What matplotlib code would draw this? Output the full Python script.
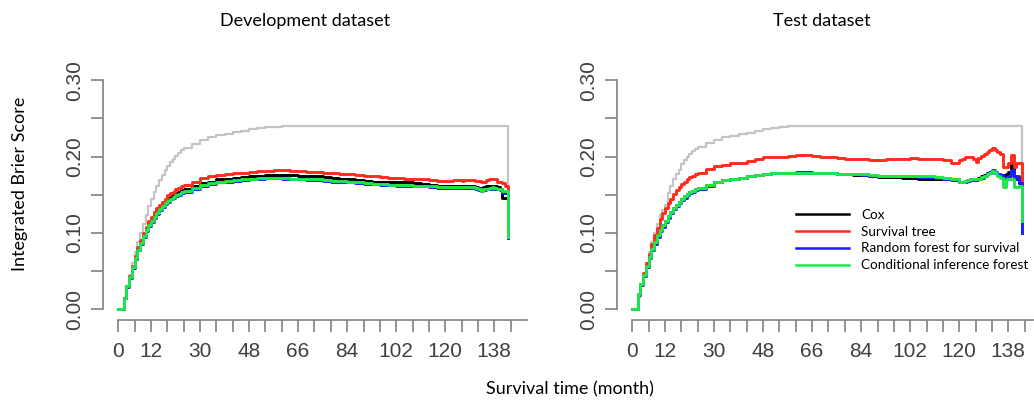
import matplotlib
matplotlib.use("Agg")
import matplotlib.pyplot as plt

# time grid (months)
months = list(range(0, 25)) + list(range(27, 121, 3)) + list(range(121, 144))

# --- Development dataset ---
dev_ref = [0, 0, 0.015, 0.03, 0.045, 0.06, 0.075, 0.088, 0.10, 0.112, 0.124, 0.135, 0.145,
           0.154, 0.162, 0.169, 0.176, 0.182, 0.188, 0.193, 0.197, 0.201, 0.205, 0.208, 0.211,
           0.216, 0.221, 0.225, 0.228, 0.230, 0.232, 0.234, 0.236, 0.237, 0.238, 0.239, 0.240,
           0.240, 0.240, 0.240, 0.240, 0.240, 0.240, 0.240, 0.240, 0.240, 0.240,
           0.240, 0.240, 0.240, 0.240, 0.240, 0.240, 0.240, 0.240, 0.240, 0.240,
           0.240, 0.240, 0.240, 0.240, 0.240, 0.240, 0.240, 0.240, 0.240, 0.240, 0.240,
           0.240, 0.240, 0.240, 0.240, 0.240, 0.240, 0.240, 0.240, 0.240, 0.240, 0.240, 0.157]
dev_cox = [0, 0, 0.015, 0.03, 0.042, 0.055, 0.067, 0.078, 0.088, 0.097, 0.105, 0.112, 0.117,
           0.123, 0.128, 0.133, 0.137, 0.141, 0.144, 0.147, 0.150, 0.152, 0.154, 0.156, 0.158,
           0.162, 0.165, 0.167, 0.170, 0.171, 0.172, 0.173, 0.174, 0.175, 0.1755, 0.176, 0.176,
           0.1755, 0.175, 0.1745, 0.174, 0.173, 0.172, 0.171, 0.170, 0.169, 0.168,
           0.167, 0.167, 0.166, 0.166, 0.166, 0.165, 0.164, 0.163, 0.162, 0.161,
           0.161, 0.161, 0.161, 0.161, 0.161, 0.161, 0.161, 0.161, 0.161, 0.161, 0.160,
           0.159, 0.158, 0.160, 0.161, 0.162, 0.162, 0.161, 0.160, 0.158, 0.146, 0.146, 0.150]
dev_tree = [0, 0, 0.015, 0.03, 0.043, 0.057, 0.07, 0.081, 0.091, 0.10, 0.108, 0.115, 0.121,
            0.127, 0.132, 0.137, 0.141, 0.145, 0.149, 0.152, 0.154, 0.157, 0.159, 0.161, 0.163,
            0.167, 0.1715, 0.174, 0.176, 0.177, 0.178, 0.179, 0.180, 0.181, 0.1815, 0.182, 0.182,
            0.1815, 0.181, 0.180, 0.1795, 0.179, 0.178, 0.177, 0.177, 0.176, 0.175,
            0.174, 0.173, 0.172, 0.172, 0.171, 0.171, 0.170, 0.169, 0.168, 0.168,
            0.168, 0.168, 0.169, 0.169, 0.169, 0.168, 0.169, 0.169, 0.169, 0.169, 0.168,
            0.168, 0.166, 0.167, 0.169, 0.170, 0.171, 0.170, 0.167, 0.166, 0.165, 0.162, 0.158]
dev_rf = [0, 0, 0.015, 0.029, 0.041, 0.054, 0.066, 0.077, 0.086, 0.095, 0.103, 0.109, 0.114,
          0.120, 0.125, 0.130, 0.134, 0.138, 0.141, 0.144, 0.146, 0.148, 0.150, 0.152, 0.154,
          0.158, 0.162, 0.164, 0.166, 0.167, 0.168, 0.169, 0.170, 0.171, 0.1715, 0.1715, 0.171,
          0.1705, 0.170, 0.1695, 0.169, 0.168, 0.167, 0.167, 0.166, 0.165, 0.164,
          0.164, 0.163, 0.163, 0.162, 0.162, 0.162, 0.161, 0.160, 0.159, 0.159,
          0.159, 0.159, 0.159, 0.159, 0.159, 0.159, 0.159, 0.159, 0.159, 0.159, 0.158,
          0.156, 0.155, 0.156, 0.157, 0.158, 0.159, 0.158, 0.157, 0.156, 0.152, 0.152, 0.093]
dev_cif = [0, 0, 0.015, 0.03, 0.042, 0.055, 0.067, 0.078, 0.087, 0.096, 0.104, 0.110, 0.115,
           0.121, 0.126, 0.131, 0.135, 0.139, 0.142, 0.145, 0.147, 0.149, 0.151, 0.153, 0.155,
           0.159, 0.163, 0.165, 0.167, 0.168, 0.169, 0.170, 0.171, 0.1715, 0.172, 0.172, 0.1715,
           0.171, 0.171, 0.170, 0.170, 0.169, 0.168, 0.168, 0.167, 0.166, 0.165,
           0.164, 0.164, 0.163, 0.163, 0.163, 0.162, 0.162, 0.161, 0.160, 0.160,
           0.160, 0.160, 0.160, 0.160, 0.160, 0.160, 0.160, 0.160, 0.160, 0.160, 0.159,
           0.157, 0.155, 0.157, 0.158, 0.159, 0.160, 0.159, 0.158, 0.157, 0.155, 0.155, 0.095]

# --- Test dataset ---
test_ref = [0, 0, 0.015, 0.03, 0.045, 0.06, 0.075, 0.088, 0.10, 0.112, 0.124, 0.13, 0.137,
            0.152, 0.162, 0.17, 0.177, 0.183, 0.19, 0.195, 0.199, 0.203, 0.207, 0.210, 0.213,
            0.218, 0.222, 0.225, 0.227, 0.229, 0.231, 0.233, 0.236, 0.237, 0.239, 0.2395, 0.240,
            0.240, 0.240, 0.240, 0.240, 0.240, 0.240, 0.240, 0.240, 0.240, 0.240,
            0.240, 0.240, 0.240, 0.240, 0.240, 0.240, 0.240, 0.240, 0.240, 0.240,
            0.240, 0.240, 0.240, 0.240, 0.240, 0.240, 0.240, 0.240, 0.240, 0.240, 0.240,
            0.240, 0.240, 0.240, 0.240, 0.240, 0.240, 0.240, 0.240, 0.240, 0.240, 0.240, 0.162]
test_cox = [0, 0, 0.02, 0.033, 0.045, 0.057, 0.068, 0.079, 0.088, 0.097, 0.104, 0.110, 0.116,
            0.122, 0.128, 0.133, 0.137, 0.141, 0.145, 0.148, 0.151, 0.153, 0.155, 0.157, 0.159,
            0.163, 0.166, 0.169, 0.171, 0.172, 0.174, 0.176, 0.177, 0.178, 0.178, 0.179, 0.179,
            0.179, 0.179, 0.178, 0.178, 0.177, 0.177, 0.176, 0.176, 0.174, 0.173,
            0.173, 0.173, 0.172, 0.172, 0.171, 0.171, 0.170, 0.171, 0.170, 0.167,
            0.167, 0.168, 0.169, 0.170, 0.171, 0.171, 0.172, 0.174, 0.176, 0.178, 0.179,
            0.180, 0.178, 0.177, 0.176, 0.176, 0.177, 0.180, 0.192, 0.175, 0.170, 0.165, 0.160]
test_tree = [0, 0, 0.02, 0.033, 0.047, 0.06, 0.072, 0.085, 0.097, 0.107, 0.118, 0.126, 0.133,
             0.139, 0.145, 0.151, 0.156, 0.160, 0.164, 0.167, 0.170, 0.173, 0.175, 0.177, 0.179,
             0.184, 0.187, 0.189, 0.191, 0.192, 0.194, 0.197, 0.199, 0.200, 0.200, 0.201, 0.202,
             0.202, 0.201, 0.200, 0.200, 0.198, 0.197, 0.197, 0.197, 0.196, 0.196,
             0.197, 0.197, 0.197, 0.198, 0.197, 0.197, 0.197, 0.196, 0.191, 0.196,
             0.197, 0.199, 0.200, 0.199, 0.197, 0.193, 0.198, 0.201, 0.203, 0.206, 0.208,
             0.211, 0.209, 0.206, 0.203, 0.186, 0.186, 0.192, 0.202, 0.186, 0.192, 0.192, 0.162]
test_rf = [0, 0, 0.019, 0.032, 0.044, 0.056, 0.067, 0.077, 0.086, 0.095, 0.102, 0.108, 0.114,
           0.120, 0.126, 0.131, 0.135, 0.139, 0.143, 0.146, 0.149, 0.152, 0.154, 0.156, 0.158,
           0.162, 0.166, 0.169, 0.171, 0.172, 0.174, 0.176, 0.177, 0.178, 0.179, 0.179, 0.180,
           0.180, 0.179, 0.178, 0.178, 0.177, 0.177, 0.177, 0.176, 0.175, 0.174,
           0.174, 0.174, 0.174, 0.174, 0.173, 0.173, 0.172, 0.171, 0.169, 0.166,
           0.166, 0.167, 0.168, 0.169, 0.169, 0.169, 0.170, 0.172, 0.175, 0.178, 0.180,
           0.183, 0.180, 0.177, 0.176, 0.172, 0.172, 0.175, 0.182, 0.170, 0.175, 0.165, 0.100]
test_cif = [0, 0, 0.02, 0.033, 0.045, 0.057, 0.068, 0.079, 0.088, 0.097, 0.104, 0.110, 0.116,
            0.122, 0.128, 0.133, 0.137, 0.141, 0.145, 0.148, 0.151, 0.153, 0.155, 0.157, 0.159,
            0.163, 0.166, 0.169, 0.171, 0.172, 0.174, 0.176, 0.177, 0.178, 0.178, 0.179, 0.179,
            0.179, 0.179, 0.178, 0.178, 0.177, 0.177, 0.177, 0.177, 0.176, 0.175,
            0.175, 0.175, 0.175, 0.175, 0.174, 0.174, 0.173, 0.172, 0.170, 0.167,
            0.167, 0.168, 0.169, 0.170, 0.170, 0.170, 0.171, 0.173, 0.175, 0.177, 0.179,
            0.181, 0.178, 0.175, 0.172, 0.160, 0.170, 0.170, 0.170, 0.160, 0.160, 0.162, 0.115]

labels = ["Cox", "Survival tree", "Random forest for survival", "Conditional inference forest"]
colors = ["black", "#ff2b1c", "#1c1cff", "#1ee64b"]

x_ticks = list(range(0, 145, 6))
x_labels = ["0", "12", "30", "48", "66", "84", "102", "120", "138"]
y_ticks = [0, 0.05, 0.10, 0.15, 0.20, 0.25, 0.30]
y_labels = ["0.00", "", "0.10", "", "0.20", "", "0.30"]

axis_col = "#808080"
lab_col = "#404040"

fig = plt.figure(figsize=(10.34, 4.01), dpi=100)


def draw_panel(ax, ref, series, title, title_x, legend=False):
    ax.plot(months, ref, drawstyle="steps-post", color="#c4c4c4", lw=1.6)
    for vals, c, lab in zip(series, colors, labels):
        ax.plot(months, vals, drawstyle="steps-post", color=c, lw=2.1, label=lab)
    ax.set_xlim(-5.6, 150)
    ax.set_ylim(-0.014, 0.3067)
    for s in ["top", "right"]:
        ax.spines[s].set_visible(False)
    ax.spines["left"].set_bounds(0, 0.30)
    ax.spines["bottom"].set_bounds(0, 150)
    for s in ["left", "bottom"]:
        ax.spines[s].set_color(axis_col)
        ax.spines[s].set_linewidth(1.2)
    ax.set_xticks(x_ticks)
    ax.set_xticklabels([str(t) if str(t) in x_labels else "" for t in x_ticks])
    ax.set_yticks(y_ticks)
    ax.set_yticklabels(y_labels, rotation=90, va="center")
    ax.tick_params(axis="both", length=8.6, width=1.2, color=axis_col,
                   labelcolor=lab_col, labelsize=15)
    ax.tick_params(axis="x", pad=7)
    ax.tick_params(axis="y", pad=5)
    for t in ax.get_xticklabels() + ax.get_yticklabels():
        t.set_fontfamily("Liberation Sans")
    fig.text(title_x, 1 - 21 / 401, title, ha="center", va="center",
             fontsize=13, family="Lato")
    if legend:
        leg = ax.legend(frameon=False, loc="center left",
                        bbox_to_anchor=(796 / 1034, 1 - 240 / 401),
                        bbox_transform=fig.transFigure,
                        prop={"family": "Lato", "size": 9.7}, handlelength=3.9,
                        handletextpad=0.92, labelspacing=0.36, borderpad=0,
                        borderaxespad=0)
        for h in leg.get_lines():
            h.set_linewidth(1.8)


ax1 = fig.add_axes([103 / 1034, 81 / 401, 424 / 1034, 245 / 401])
draw_panel(ax1, dev_ref, [dev_cox, dev_tree, dev_rf, dev_cif],
           "Development dataset", 305 / 1034)

ax2 = fig.add_axes([617 / 1034, 81 / 401, 424 / 1034, 245 / 401])
draw_panel(ax2, test_ref, [test_cox, test_tree, test_rf, test_cif],
           "Test dataset", 822 / 1034, legend=True)

fig.text(20 / 1034, 1 - 184 / 401, "Integrated Brier Score", rotation=90,
         ha="center", va="center", fontsize=13, family="Lato")
fig.text(570 / 1034, 1 - 389 / 401, "Survival time (month)",
         ha="center", va="center", fontsize=13, family="Lato")

fig.savefig("out.png", dpi=100)
